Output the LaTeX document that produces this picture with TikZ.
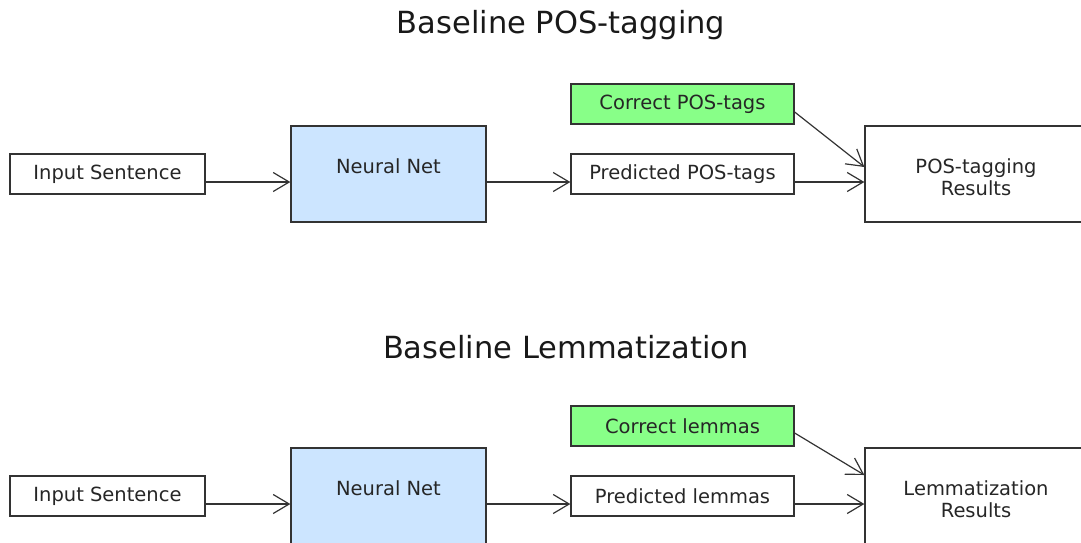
\documentclass[tikz,border=0pt]{standalone}
\usepackage{fontspec}
\setmainfont{DejaVu Sans}
\usetikzlibrary{arrows.meta}

\definecolor{netblue}{RGB}{204,229,255}
\definecolor{goldgreen}{RGB}{136,255,136}

\begin{document}
\begin{tikzpicture}[x=1pt,y=-1pt]
  \tikzset{box/.style = {shape=rectangle,draw=black!80,line width=1.3pt,minimum height=40pt,inner sep=0pt,font=\fontsize{19.5}{22.5}\selectfont,text=black!85}}
  \tikzset{bigbox/.style = {box,minimum height=96pt}}
  \tikzset{title/.style = {font=\fontsize{30.5}{36}\selectfont,text=black!90}}
  \tikzset{edge/.style = {-{Straight Barb[length=16pt,width=19pt]},line width=1.2pt,draw=black!80}}

  \clip (0,0) rectangle (1081,542);

  % POS-tagging
	\node[title] (T1) at (561,25) {Baseline POS-tagging};
	\node[box,minimum width=195pt] (IS1) at (107.5,174) {Input Sentence};
	\node[bigbox,minimum width=195pt,fill=netblue,text height=15pt,text depth=17pt] (NN1) at (388.5,174) {Neural Net};
	\node[box,minimum width=223pt] (PT1) at (682.5,174) {Predicted POS-tags};
	\node[box,minimum width=223pt,fill=goldgreen] (CT1) at (682.5,104) {Correct POS-tags};
	\node[bigbox,minimum width=222pt,align=center] (PR1) at (976,174) {\rule{0pt}{21pt}POS-tagging\\Results};

  % lemmatization
	\node[title] (T2) at (566,347) {Baseline Lemmatization};
	\node[box,minimum width=195pt] (IS2) at (107.5,496) {Input Sentence};
	\node[bigbox,minimum width=195pt,fill=netblue,text height=15pt,text depth=17pt] (NN2) at (388.5,496) {Neural Net};
	\node[box,minimum width=223pt] (PT2) at (682.5,496) {Predicted lemmas};
	\node[box,minimum width=223pt,fill=goldgreen] (CT2) at (682.5,426) {Correct lemmas};
	\node[bigbox,minimum width=222pt,align=center] (PR2) at (976,496) {\rule{0pt}{21pt}Lemmatization\\Results};

       \foreach \from/\to in {IS1/NN1, NN1/PT1, PT1/PR1, IS2/NN2, NN2/PT2, PT2/PR2}
    \draw[edge] ([yshift=-8pt]\from.east) -- ([yshift=-8pt]\to.west);
	\draw[edge] ([yshift=-8pt]CT1.east) -- ([yshift=7pt]PR1.west);
	\draw[edge] ([yshift=-7pt]CT2.east) -- ([yshift=21pt]PR2.west);
\end{tikzpicture}
\end{document}
